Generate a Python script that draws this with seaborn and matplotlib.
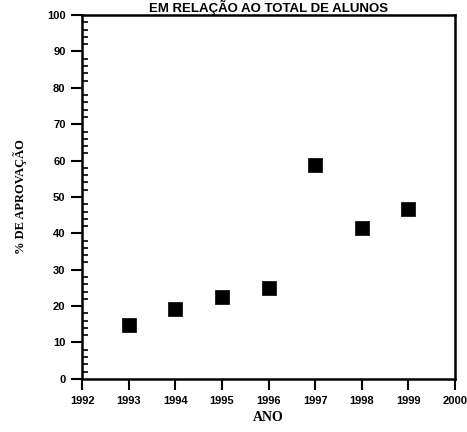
import matplotlib
matplotlib.use('Agg')
import matplotlib.pyplot as plt
from matplotlib.ticker import MultipleLocator
import seaborn as sns
import pandas as pd

anos = [1993, 1994, 1995, 1996, 1997, 1998, 1999]
aprovacao = [14.8, 19.2, 22.6, 25.1, 58.8, 41.4, 46.8]

df = pd.DataFrame({'ano': anos, 'aprovacao': aprovacao})

sns.set_style('ticks')
plt.rcParams['font.family'] = ['Liberation Sans', 'DejaVu Sans']
plt.rcParams['text.color'] = 'black'
plt.rcParams['axes.labelcolor'] = 'black'
plt.rcParams['xtick.color'] = 'black'
plt.rcParams['ytick.color'] = 'black'

fig = plt.figure(figsize=(4.67, 4.32), dpi=100)
ax = fig.add_axes([0.176, 0.123, 0.798, 0.842])

sns.scatterplot(data=df, x='ano', y='aprovacao', marker='s', s=95,
                color='black', edgecolor='black', linewidth=0.5, ax=ax)

ax.set_xlim(1992, 2000)
ax.set_ylim(0, 100)
ax.xaxis.set_major_locator(MultipleLocator(1))
ax.yaxis.set_major_locator(MultipleLocator(10))
ax.yaxis.set_minor_locator(MultipleLocator(2))

ax.tick_params(axis='both', which='major', direction='out', length=8, width=1.5,
               labelsize=8, pad=4)
ax.tick_params(axis='y', which='minor', direction='in', length=4, width=1.2)
for lab in ax.get_xticklabels() + ax.get_yticklabels():
    lab.set_fontweight('bold')

for sp in ax.spines.values():
    sp.set_linewidth(1.8)
    sp.set_color('black')

ax.set_xlabel('ANO', family=['Liberation Serif', 'DejaVu Serif'],
              fontweight='bold', fontsize=10, labelpad=4)
ax.set_ylabel('% DE APROVAÇÃO', family=['Liberation Serif', 'DejaVu Serif'],
              fontweight='bold', fontsize=9, labelpad=14)

fig.text(0.575, 1 - 12 / 432, 'EM RELAÇÃO AO TOTAL DE ALUNOS', ha='center',
         va='baseline', fontsize=9.5, fontweight='bold')

fig.savefig('out.png', dpi=100)
